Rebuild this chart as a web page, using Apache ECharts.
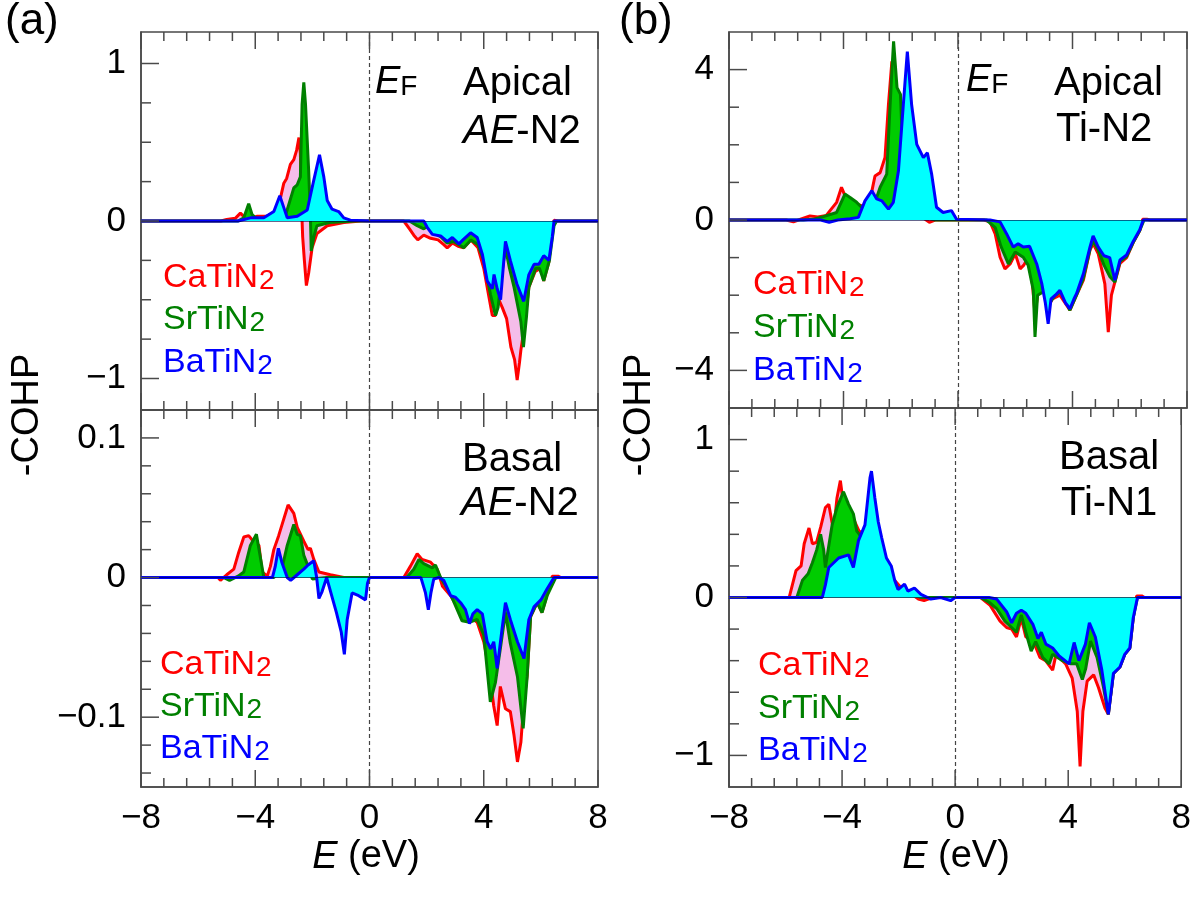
<!DOCTYPE html>
<html><head><meta charset="utf-8">
<script src="https://cdn.jsdelivr.net/npm/echarts@6/dist/echarts.min.js"></script>
<style>html,body{margin:0;padding:0;background:#fff}#c{width:1194px;height:907px}</style>
</head><body><div id="c"></div>
<script>
// ---------- tick values ----------
const xMin = -8, xMax = 8, xInterval = 4;
const xMajor = [-8, -4, 0, 4, 8];
const xMinor = [-7.2, -6.4, -5.6, -4.8, -3.2, -2.4, -1.6, -0.8, 0.8, 1.6, 2.4, 3.2, 4.8, 5.6, 6.4, 7.2];
const ulMajor = [-1, 0, 1];
const ulMinor = [-0.75, -0.5, -0.25, 0.25, 0.5, 0.75];
const llMajor = [-0.1, 0, 0.1];
const llMinor = [-0.14, -0.12, -0.08, -0.06, -0.04, -0.02, 0.02, 0.04, 0.06, 0.08];
const urMajor = [-4, 0, 4];
const urMinor = [-3, -2, -1, 1, 2, 3];
const lrMajor = [-1, 0, 1];
const lrMinor = [-0.8, -0.6, -0.4, -0.2, 0.2, 0.4, 0.6, 0.8];
const compounds = ['CaTiN', 'SrTiN', 'BaTiN'];

// ---------- (a) Apical AE-N2 ----------
const ulCa = [[-8,0],[-5.2,0],[-5.0,0.01],[-4.7,0.017],[-4.52,0.05],[-4.35,0.02],[-4.1,0.02],[-3.93,0.03],[-3.6,0.03],[-3.35,0.055],[-3.15,0.12],[-3.0,0.24],[-2.9,0.27],[-2.77,0.36],[-2.65,0.39],[-2.55,0.45],[-2.47,0.53],[-2.42,0.43],[-2.38,0.1],[-2.34,-0.1],[-2.28,-0.25],[-2.21,-0.41],[-2.13,-0.33],[-2.01,-0.17],[-1.84,-0.08],[-1.48,-0.03],[-0.9,-0.01],[-0.3,0],[1.2,0],[1.4,-0.05],[1.55,-0.09],[1.69,-0.12],[1.9,-0.09],[2.14,-0.11],[2.4,-0.12],[2.6,-0.15],[2.72,-0.17],[2.9,-0.14],[3.1,-0.16],[3.3,-0.17],[3.55,-0.12],[3.8,-0.17],[4.0,-0.3],[4.15,-0.45],[4.3,-0.6],[4.41,-0.6],[4.53,-0.5],[4.65,-0.55],[4.8,-0.62],[4.95,-0.8],[5.08,-0.88],[5.17,-1.01],[5.25,-0.9],[5.3,-0.82],[5.4,-0.7],[5.58,-0.42],[5.8,-0.32],[6.0,-0.3],[6.1,-0.38],[6.28,-0.26],[6.4,-0.05],[6.46,0.005],[6.6,0],[8,0]];
const ulSr = [[-8,0],[-4.6,0],[-4.4,0.02],[-4.23,0.11],[-4.11,0.04],[-3.93,0.01],[-3.3,0.02],[-2.95,0.03],[-2.8,0.12],[-2.65,0.21],[-2.53,0.23],[-2.42,0.28],[-2.36,0.74],[-2.30,0.88],[-2.24,0.74],[-2.13,0.32],[-2.07,0.04],[-2.04,-0.19],[-1.95,-0.1],[-1.84,-0.03],[-1.4,-0.01],[-0.5,0],[1.4,0],[1.67,-0.03],[1.9,-0.05],[2.14,-0.02],[2.3,-0.08],[2.49,-0.1],[2.72,-0.14],[2.95,-0.13],[3.3,-0.17],[3.55,-0.12],[3.8,-0.15],[4.0,-0.25],[4.24,-0.47],[4.41,-0.6],[4.5,-0.55],[4.62,-0.35],[4.76,-0.17],[4.9,-0.3],[5.06,-0.42],[5.3,-0.64],[5.39,-0.8],[5.5,-0.6],[5.58,-0.42],[5.82,-0.3],[5.95,-0.3],[6.1,-0.38],[6.3,-0.25],[6.46,-0.03],[6.55,0],[8,0]];
const ulBa = [[-8,0],[-4.6,0],[-4.17,0.02],[-3.7,0.02],[-3.35,0.06],[-3.14,0.16],[-3.0,0.085],[-2.88,0.02],[-2.53,0.03],[-2.18,0.07],[-1.95,0.26],[-1.75,0.42],[-1.6,0.28],[-1.48,0.13],[-1.31,0.075],[-1.08,0.06],[-0.9,0.02],[-0.67,0.005],[0,0],[1.9,0],[2.02,-0.04],[2.2,-0.085],[2.49,-0.095],[2.72,-0.13],[2.9,-0.105],[3.13,-0.145],[3.3,-0.115],[3.54,-0.075],[3.77,-0.105],[3.95,-0.21],[4.12,-0.38],[4.3,-0.43],[4.36,-0.34],[4.47,-0.43],[4.59,-0.5],[4.68,-0.3],[4.76,-0.13],[4.93,-0.25],[5.16,-0.4],[5.4,-0.51],[5.58,-0.34],[5.76,-0.275],[5.93,-0.275],[6.1,-0.22],[6.28,-0.25],[6.4,-0.1],[6.46,0],[8,0]];

// ---------- (a) Basal AE-N2 ----------
const llCa = [[-8,0],[-5.3,0],[-5.22,-0.002],[-5.0,0.002],[-4.75,0.006],[-4.58,0.018],[-4.4,0.029],[-4.23,0.03],[-4.11,0.027],[-3.87,0.023],[-3.76,0.004],[-3.58,0.001],[-3.47,0.008],[-3.35,0.02],[-3.18,0.03],[-3.0,0.042],[-2.85,0.052],[-2.65,0.046],[-2.53,0.036],[-2.3,0.026],[-2.15,0.02],[-2.07,0.021],[-1.95,0.013],[-1.77,0.004],[-1.37,0.002],[-0.9,0],[1.2,0],[1.43,0.008],[1.67,0.017],[1.84,0.013],[2.14,0.011],[2.37,0.006],[2.55,-0.006],[2.84,-0.013],[3.19,-0.025],[3.45,-0.027],[3.77,-0.032],[4.0,-0.046],[4.18,-0.065],[4.35,-0.092],[4.47,-0.106],[4.58,-0.078],[4.76,-0.094],[4.93,-0.096],[5.06,-0.113],[5.18,-0.132],[5.3,-0.118],[5.4,-0.09],[5.52,-0.07],[5.64,-0.028],[5.87,-0.018],[6.04,-0.025],[6.22,-0.012],[6.4,0.001],[6.6,0.001],[6.7,0],[8,0]];
const llSr = [[-8,0],[-5.1,0],[-4.9,-0.002],[-4.6,0.001],[-4.4,0.004],[-4.17,0.023],[-3.96,0.031],[-3.85,0.018],[-3.7,0],[-3.35,0],[-3.06,0.007],[-2.88,0.023],[-2.65,0.038],[-2.53,0.031],[-2.42,0.03],[-2.3,0.016],[-2.15,0.008],[-2.0,-0.001],[-1.5,0],[1.3,0],[1.55,0.006],[1.73,0.013],[1.9,0.01],[2.2,0.007],[2.31,0.009],[2.49,0],[2.84,-0.012],[3.07,-0.023],[3.24,-0.031],[3.5,-0.032],[3.77,-0.03],[4.0,-0.041],[4.23,-0.089],[4.41,-0.075],[4.58,-0.051],[4.76,-0.025],[4.93,-0.047],[5.18,-0.071],[5.38,-0.108],[5.52,-0.071],[5.64,-0.028],[5.87,-0.018],[6.04,-0.025],[6.22,-0.013],[6.52,0],[8,0]];
const llBa = [[-8,0],[-3.4,0],[-3.3,0.008],[-3.19,0.021],[-3.07,0.011],[-2.88,0],[-2.76,-0.002],[-2.53,0.002],[-2.3,0.006],[-2.15,0.009],[-1.95,0.012],[-1.85,0],[-1.77,-0.015],[-1.66,-0.01],[-1.5,0],[-1.16,-0.025],[-0.99,-0.039],[-0.88,-0.055],[-0.78,-0.03],[-0.61,-0.011],[-0.38,-0.013],[-0.14,-0.016],[-0.07,-0.004],[0,0],[1.8,0],[1.96,-0.011],[2.06,-0.023],[2.15,-0.011],[2.25,-0.001],[2.43,0],[2.6,-0.002],[2.84,-0.013],[3.0,-0.014],[3.19,-0.018],[3.36,-0.023],[3.5,-0.033],[3.62,-0.026],[3.77,-0.023],[3.95,-0.026],[4.12,-0.046],[4.24,-0.051],[4.35,-0.046],[4.47,-0.065],[4.64,-0.037],[4.76,-0.018],[4.93,-0.03],[5.18,-0.046],[5.41,-0.058],[5.58,-0.03],[5.76,-0.021],[6.0,-0.016],[6.22,-0.008],[6.46,0],[8,0]];

// ---------- (b) Apical Ti-N2 ----------
const urCa = [[-8,0],[-6.0,0],[-5.75,-0.05],[-5.5,0.02],[-5.17,0.11],[-4.9,0.08],[-4.6,0.12],[-4.47,0.25],[-4.24,0.47],[-4.07,0.87],[-3.95,0.65],[-3.77,0.55],[-3.54,0.42],[-3.37,0.38],[-3.19,0.34],[-3.0,0.8],[-2.9,1.17],[-2.72,1.26],[-2.55,1.66],[-2.43,3.07],[-2.31,4.22],[-2.2,3.6],[-2.08,3.3],[-1.95,1.5],[-1.8,0.6],[-1.6,0.3],[-1.3,0.1],[-1.0,-0.06],[-0.8,0],[0.9,0],[1.12,-0.05],[1.3,-0.37],[1.47,-0.99],[1.64,-1.3],[1.82,-1.17],[2.0,-0.9],[2.17,-1.3],[2.3,-1.2],[2.45,-0.99],[2.6,-1.7],[2.69,-2.5],[2.8,-1.9],[3.0,-1.8],[3.15,-2.3],[3.3,-2.1],[3.56,-2.0],[3.91,-2.4],[4.14,-2.0],[4.38,-1.6],[4.61,-0.8],[4.72,-0.63],[4.9,-0.9],[5.13,-1.7],[5.25,-2.98],[5.36,-2.0],[5.48,-1.65],[5.66,-1.15],[5.89,-1.0],[6.12,-0.6],[6.35,-0.28],[6.45,0.02],[6.6,0.02],[6.7,0],[8,0]];
const urSr = [[-8,0],[-5.4,0],[-5.0,0.03],[-4.7,0.09],[-4.24,0.2],[-3.95,0.69],[-3.77,0.6],[-3.54,0.47],[-3.37,0.34],[-3.19,0.16],[-3.0,0.3],[-2.84,0.6],[-2.72,0.87],[-2.49,1.22],[-2.4,2.63],[-2.31,3.96],[-2.25,4.75],[-2.13,3.52],[-2.01,3.34],[-1.92,1.57],[-1.8,0.6],[-1.6,0.3],[-1.2,0.1],[-0.8,0],[1.0,0],[1.3,-0.2],[1.5,-0.7],[1.76,-1.17],[2.0,-0.85],[2.28,-0.99],[2.45,-1.2],[2.63,-1.87],[2.69,-3.11],[2.78,-2.0],[3.0,-1.9],[3.2,-2.2],[3.4,-2.0],[3.6,-1.9],[3.91,-2.4],[4.14,-2.0],[4.38,-1.55],[4.61,-0.78],[4.72,-0.55],[4.9,-0.8],[5.1,-1.2],[5.3,-1.5],[5.48,-1.65],[5.66,-1.1],[5.89,-0.97],[6.12,-0.6],[6.35,-0.28],[6.5,0],[8,0]];
const urBa = [[-8,0],[-4.8,0],[-4.5,-0.06],[-4.2,0],[-3.77,0.035],[-3.48,0.07],[-3.25,0.51],[-3.01,0.78],[-2.84,0.56],[-2.66,0.51],[-2.43,0.29],[-2.26,0.47],[-2.08,1.31],[-1.91,3.07],[-1.77,4.48],[-1.62,3.07],[-1.44,2.01],[-1.21,1.66],[-1.07,1.79],[-0.92,1.22],[-0.75,0.34],[-0.52,0.2],[-0.23,0.25],[-0.05,0.02],[0,0],[1.12,0],[1.47,-0.05],[1.7,-0.37],[1.93,-0.72],[2.1,-0.63],[2.28,-0.72],[2.5,-0.7],[2.75,-1.17],[2.93,-1.7],[3.05,-2.2],[3.15,-2.76],[3.25,-2.1],[3.4,-2.0],[3.56,-1.87],[3.75,-2.2],[3.91,-2.36],[4.05,-2.1],[4.14,-1.96],[4.38,-1.43],[4.61,-0.72],[4.72,-0.42],[4.9,-0.72],[5.1,-0.95],[5.3,-1.0],[5.48,-1.6],[5.66,-1.06],[5.89,-0.93],[6.12,-0.57],[6.35,-0.26],[6.47,0],[8,0]];

// ---------- (b) Basal Ti-N1 ----------
const lrCa = [[-8,0],[-6.0,0],[-5.87,0.001],[-5.63,0.17],[-5.45,0.2],[-5.34,0.34],[-5.17,0.44],[-5.05,0.34],[-4.9,0.35],[-4.75,0.45],[-4.59,0.57],[-4.47,0.59],[-4.3,0.42],[-4.18,0.63],[-4.06,0.74],[-3.98,0.63],[-3.89,0.46],[-3.77,0.55],[-3.6,0.5],[-3.4,0.42],[-3.2,0.4],[-3.0,0.35],[-2.8,0.3],[-2.5,0.2],[-2.2,0.12],[-1.9,0.06],[-1.6,0.03],[-1.3,-0.01],[-1.1,-0.02],[-0.8,0],[0.9,0],[1.24,-0.05],[1.59,-0.15],[1.82,-0.19],[2.0,-0.2],[2.17,-0.25],[2.34,-0.13],[2.5,-0.25],[2.75,-0.27],[3.0,-0.38],[3.2,-0.4],[3.45,-0.46],[3.57,-0.36],[3.91,-0.42],[4.14,-0.51],[4.32,-0.72],[4.42,-1.07],[4.52,-0.72],[4.67,-0.53],[4.9,-0.49],[5.07,-0.57],[5.3,-0.7],[5.42,-0.74],[5.6,-0.48],[5.83,-0.44],[6.0,-0.36],[6.18,-0.32],[6.3,-0.13],[6.42,0.01],[6.6,0.01],[6.7,0],[8,0]];
const lrSr = [[-8,0],[-5.6,0],[-5.4,0.11],[-5.2,0.15],[-5.05,0.22],[-4.9,0.3],[-4.76,0.40],[-4.65,0.3],[-4.59,0.19],[-4.45,0.35],[-4.35,0.46],[-4.18,0.57],[-3.95,0.67],[-3.77,0.59],[-3.6,0.53],[-3.48,0.42],[-3.3,0.38],[-3.1,0.35],[-2.9,0.3],[-2.6,0.2],[-2.3,0.12],[-2.0,0.06],[-1.6,0.03],[-1.2,0],[0.9,0],[1.2,-0.03],[1.47,-0.07],[1.76,-0.15],[2.0,-0.19],[2.17,-0.22],[2.34,-0.11],[2.5,-0.22],[2.69,-0.34],[2.85,-0.28],[3.1,-0.38],[3.33,-0.42],[3.45,-0.36],[3.8,-0.4],[4.1,-0.42],[4.3,-0.42],[4.5,-0.52],[4.62,-0.45],[4.79,-0.275],[5.02,-0.38],[5.25,-0.57],[5.42,-0.74],[5.6,-0.48],[5.83,-0.44],[6.0,-0.36],[6.18,-0.32],[6.3,-0.13],[6.45,0],[8,0]];
const lrBa = [[-8,0],[-4.7,0],[-4.59,0.08],[-4.47,0.19],[-4.12,0.25],[-3.77,0.27],[-3.6,0.19],[-3.42,0.36],[-3.19,0.46],[-3.01,0.76],[-2.96,0.8],[-2.84,0.63],[-2.72,0.48],[-2.6,0.38],[-2.43,0.25],[-2.26,0.2],[-2.14,0.11],[-2.02,0.05],[-1.79,0.085],[-1.67,0.04],[-1.44,0.06],[-1.21,0.02],[-0.86,-0.01],[-0.51,0],[-0.16,-0.02],[0,0],[1.2,0],[1.47,-0.01],[1.82,-0.09],[2.0,-0.16],[2.17,-0.1],[2.34,-0.08],[2.5,-0.1],[2.75,-0.17],[2.93,-0.26],[3.05,-0.22],[3.21,-0.295],[3.45,-0.32],[3.68,-0.37],[4.03,-0.42],[4.21,-0.285],[4.38,-0.4],[4.61,-0.295],[4.75,-0.16],[4.96,-0.25],[5.19,-0.46],[5.42,-0.74],[5.6,-0.48],[5.83,-0.44],[6.0,-0.36],[6.18,-0.32],[6.3,-0.13],[6.45,0],[8,0]];

// ---------- layout / style ----------
const FF = '"Liberation Sans", Arial, sans-serif';
const AX = '#4a4a4a';
const lineCols = ['#ff0000', '#008000', '#0000ff'];
const fillCols = ['#f5bde9', '#00cc00', '#00ffff'];
const grids = [
  {left: 141, top: 32, width: 457, height: 378},
  {left: 141, top: 410, width: 457, height: 377},
  {left: 729, top: 32, width: 458, height: 376},
  {left: 729, top: 408, width: 458, height: 379}
];
const yRanges = [[-1.2, 1.2], [-0.15, 0.12], [-5, 5], [-1.2, 1.2]];
const yMajors = [ulMajor, llMajor, urMajor, lrMajor];
const yMinors = [ulMinor, llMinor, urMinor, lrMinor];
const panelData = [[ulCa, ulSr, ulBa], [llCa, llSr, llBa], [urCa, urSr, urBa], [lrCa, lrSr, lrBa]];

const fmt = v => (v < 0 ? '\u2212' : '') + Math.abs(v);
const X_MAJ_LEN = 17, X_MIN_LEN = 9, Y_MAJ_LEN = 18, Y_MIN_LEN = 10;

const xAxis = [], yAxis = [], series = [];
grids.forEach((g, i) => {
  const showX = (i === 1 || i === 3);
  xAxis.push({
    gridIndex: i, type: 'value', position: 'bottom', min: xMin, max: xMax, interval: xInterval,
    axisLine: {show: true, onZero: false, lineStyle: {color: AX, width: 1.5}},
    axisTick: {show: false}, minorTick: {show: false},
    axisLabel: {show: showX, formatter: fmt, fontSize: 35, fontFamily: FF, color: '#000', margin: 14},
    splitLine: {show: false}, minorSplitLine: {show: false}
  });
  yAxis.push({
    gridIndex: i, type: 'value', position: 'left', min: yRanges[i][0], max: yRanges[i][1],
    axisLine: {show: true, onZero: false, lineStyle: {color: AX, width: 1.5}},
    axisTick: {show: false},
    axisLabel: {show: true, customValues: yMajors[i], formatter: fmt, fontSize: 35, fontFamily: FF, color: '#000', margin: 15},
    splitLine: {show: false}
  });
  panelData[i].forEach((d, s) => {
    const ser = {
      type: 'line', xAxisIndex: i, yAxisIndex: i, data: d,
      showSymbol: false, symbol: 'none', smooth: false, animation: false,
      lineStyle: {color: lineCols[s], width: 3},
      areaStyle: {color: fillCols[s], opacity: 1, origin: 0},
      z: 2 + s
    };
    if (s === 2) {
      ser.markLine = {
        silent: true, symbol: 'none', animation: false,
        label: {show: false},
        data: [
          {xAxis: 0, lineStyle: {color: '#444', width: 1.2, type: [4, 3]}},
          {yAxis: 0, lineStyle: {color: '#000040', width: 1.2, type: 'solid', opacity: 0.6}}
        ]
      };
    }
    series.push(ser);
  });
  // tick marks drawn through the axis scales: [value, kind(0 = x, 1 = y), length]
  const tickData = []
    .concat(xMajor.map(v => [v, 0, X_MAJ_LEN]))
    .concat(xMinor.map(v => [v, 0, X_MIN_LEN]))
    .concat(yMajors[i].map(v => [v, 1, Y_MAJ_LEN]))
    .concat(yMinors[i].map(v => [v, 1, Y_MIN_LEN]));
  const yLo = yRanges[i][0];
  series.push({
    type: 'custom', xAxisIndex: i, yAxisIndex: i, data: tickData,
    silent: true, animation: false, z: 20, clip: false,
    encode: {x: 0, y: 1},
    renderItem: function (params, api) {
      const v = api.value(0), kind = api.value(1), len = api.value(2);
      const cs = params.coordSys;
      const st = {stroke: AX, lineWidth: 1.5};
      if (kind === 0) {
        const x = api.coord([v, yLo])[0];
        return {type: 'group', children: [
          {type: 'line', shape: {x1: x, y1: cs.y, x2: x, y2: cs.y + len}, style: st},
          {type: 'line', shape: {x1: x, y1: cs.y + cs.height, x2: x, y2: cs.y + cs.height - len}, style: st}
        ]};
      }
      const y = api.coord([xMin, v])[1];
      return {type: 'line', shape: {x1: cs.x, y1: y, x2: cs.x + len, y2: y}, style: st};
    }
  });
});

// ---------- text graphics ----------
const graphic = [];
function txt(x, y, text, rich, align, extra) {
  graphic.push(Object.assign({
    type: 'text', x: x, y: y, z: 100,
    style: {text: text, rich: rich, align: align || 'left', verticalAlign: 'middle',
            fontSize: 36, fontFamily: FF, fill: '#000'}
  }, extra || {}));
}
const ANN = 40;
const annRich = {
  n: {fontSize: ANN, fontFamily: FF, fill: '#000', lineHeight: ANN},
  i: {fontSize: ANN, fontFamily: FF, fontStyle: 'italic', fill: '#000', lineHeight: ANN}
};
const axRich = {
  n: {fontSize: 38, fontFamily: FF, fill: '#000', lineHeight: 38},
  i: {fontSize: 38, fontFamily: FF, fontStyle: 'italic', fill: '#000', lineHeight: 38}
};
const efRich = {
  e: {fontSize: 38, fontFamily: FF, fontStyle: 'italic', fill: '#000', lineHeight: 38},
  f: {fontSize: 28, fontFamily: FF, fill: '#000', lineHeight: 16, verticalAlign: 'bottom'}
};
function legend(x, ys) {
  compounds.forEach((c, s) => {
    const rich = {
      m: {fontSize: 34, fontFamily: FF, fill: lineCols[s], lineHeight: 34},
      s: {fontSize: 28, fontFamily: FF, fill: lineCols[s], lineHeight: 15, verticalAlign: 'bottom', padding: [0, 0, 0, 1]}
    };
    txt(x, ys[s], '{m|' + c + '}{s|2}', rich, 'left');
  });
}
// panel labels
txt(5, 22, '{n|(a)}', {n: {fontSize: 44, fontFamily: FF, fill: '#000'}}, 'left');
txt(619, 22, '{n|(b)}', {n: {fontSize: 44, fontFamily: FF, fill: '#000'}}, 'left');
// y axis titles
txt(28, 415, '{n|-COHP}', {n: {fontSize: 38, fontFamily: FF, fill: '#000'}}, 'center', {rotation: Math.PI / 2});
txt(640, 415, '{n|-COHP}', {n: {fontSize: 38, fontFamily: FF, fill: '#000'}}, 'center', {rotation: Math.PI / 2});
// x axis titles
txt(366, 857, '{i|E}{n| (eV)}', axRich, 'center');
txt(956, 857, '{i|E}{n| (eV)}', axRich, 'center');
// E_F
txt(375, 82, '{e|E}{f|F}', efRich, 'left');
txt(966, 80, '{e|E}{f|F}', efRich, 'left');
// annotations
txt(463, 84, '{n|Apical}', annRich, 'left');
txt(463, 132, '{i|AE}{n|-N2}', annRich, 'left');
txt(462, 460, '{n|Basal}', annRich, 'left');
txt(461, 504, '{i|AE}{n|-N2}', annRich, 'left');
txt(1054, 84, '{n|Apical}', annRich, 'left');
txt(1056, 130, '{n|Ti-N2}', annRich, 'left');
txt(1059, 458, '{n|Basal}', annRich, 'left');
txt(1061, 504, '{n|Ti-N1}', annRich, 'left');
// legends
legend(163, [278, 320, 363]);
legend(160, [665, 707, 749]);
legend(753, [285, 328, 371]);
legend(758, [666, 709, 751]);

const chart = echarts.init(document.getElementById('c'), null, {renderer: 'canvas'});
chart.setOption({
  animation: false,
  backgroundColor: '#fff',
  grid: grids.map(g => Object.assign({show: true, borderColor: AX, borderWidth: 1.5, backgroundColor: 'transparent', containLabel: false}, g)),
  xAxis: xAxis,
  yAxis: yAxis,
  series: series,
  graphic: graphic
});
</script>
</body></html>
